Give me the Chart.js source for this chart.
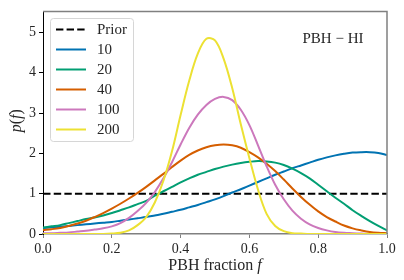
<!DOCTYPE html>
<html lang="en">
<head>
<meta charset="utf-8" />
<title>PBH fraction posterior</title>
<script src="https://cdn.jsdelivr.net/npm/chart.js@4.4.1/dist/chart.umd.min.js"></script>
<style>
  html, body { margin: 0; padding: 0; background: #fff; }
</style>
</head>
<body>
<canvas id="myChart" width="404" height="280"></canvas>

<script>
// PBH fraction grid and posterior p(f)
var fractions = [0, 0.025, 0.05, 0.075, 0.1, 0.125, 0.15, 0.175, 0.2, 0.225,
	0.25, 0.275, 0.3, 0.325, 0.35, 0.375, 0.4, 0.425, 0.45, 0.475,
	0.5, 0.525, 0.55, 0.575, 0.6, 0.625, 0.65, 0.675, 0.7, 0.725,
	0.75, 0.775, 0.8, 0.825, 0.85, 0.875, 0.9, 0.925, 0.95, 0.975, 1.0];

var labels = ["Prior", "10", "20", "40", "100", "200"];
var colors = ["#000000", "#0173B2", "#029E73", "#D55E00", "#CC78BC", "#ECE133"];

var prior = [1, 1];
var n10 = [0.15, 0.165, 0.18, 0.20, 0.22, 0.24, 0.26, 0.28, 0.30, 0.33,
	0.36, 0.39, 0.42, 0.46, 0.50, 0.55, 0.60, 0.66, 0.72, 0.79,
	0.86, 0.94, 1.03, 1.11, 1.20, 1.29, 1.38, 1.47, 1.55, 1.63,
	1.70, 1.77, 1.84, 1.90, 1.95, 1.99, 2.02, 2.03, 2.03, 2.01, 1.96];
var n20 = [0.16, 0.19, 0.22, 0.27, 0.32, 0.37, 0.41, 0.46, 0.52, 0.59,
	0.66, 0.74, 0.82, 0.95, 1.06, 1.17, 1.28, 1.38, 1.47, 1.54,
	1.61, 1.67, 1.72, 1.76, 1.79, 1.81, 1.80, 1.77, 1.71, 1.62,
	1.51, 1.38, 1.22, 1.06, 0.90, 0.75, 0.59, 0.45, 0.32, 0.20, 0.09];
var n40 = [0.10, 0.12, 0.15, 0.20, 0.26, 0.33, 0.42, 0.52, 0.63, 0.75,
	0.88, 1.02, 1.17, 1.33, 1.49, 1.66, 1.82, 1.96, 2.07, 2.15,
	2.20, 2.22, 2.20, 2.14, 2.03, 1.90, 1.74, 1.56, 1.35, 1.13,
	0.92, 0.73, 0.56, 0.42, 0.31, 0.21, 0.14, 0.09, 0.05, 0.03, 0.02];
var n100 = [0.02, 0.02, 0.03, 0.04, 0.06, 0.08, 0.11, 0.14, 0.19, 0.27,
	0.40, 0.57, 0.77, 1.04, 1.38, 1.78, 2.22, 2.63, 2.96, 3.20,
	3.35, 3.40, 3.32, 3.08, 2.70, 2.20, 1.68, 1.22, 0.86, 0.58,
	0.38, 0.24, 0.15, 0.09, 0.05, 0.03, 0.02, 0.01, 0, 0, 0];
var n200 = [0, 0, 0, 0, 0, 0, 0, 0, 0.01, 0.03,
	0.09, 0.22, 0.42, 0.78, 1.32, 2.05, 2.95, 3.80, 4.47, 4.84,
	4.80, 4.35, 3.62, 2.72, 1.88, 1.10, 0.50, 0.20, 0.07, 0.02,
	0.01, 0, 0, 0, 0, 0, 0, 0, 0, 0, 0];

var xTicks = [0, 0.2, 0.4, 0.6, 0.8, 1.0];
var yTicks = [0, 1, 2, 3, 4, 5];

var serif = "'Liberation Serif', 'DejaVu Serif', serif";
var textColor = "#262626";
var frameGray = "#808080";

function points(ys, xs) {
	return ys.map(function (y, i) { return { x: xs[i], y: y }; });
}

var series = [points(prior, [0, 1]), points(n10, fractions), points(n20, fractions),
	points(n40, fractions), points(n100, fractions), points(n200, fractions)];

var datasets = series.map(function (data, i) {
	return {
		label: labels[i],
		data: data,
		borderColor: colors[i],
		borderWidth: 2,
		borderDash: i === 0 ? [7.4, 3.2] : [],
		pointRadius: 0,
		fill: false,
		tension: 0.35,
		order: labels.length - i
	};
});

// matplotlib style frame: gray top/right spines
var framePlugin = {
	id: "frame",
	afterDatasetsDraw: function (chart) {
		var a = chart.chartArea, ctx = chart.ctx;
		ctx.save();
		ctx.strokeStyle = frameGray;
		ctx.lineWidth = 1.5;
		ctx.beginPath();
		ctx.moveTo(a.left, a.top);
		ctx.lineTo(a.right, a.top);
		ctx.lineTo(a.right, a.bottom);
		ctx.stroke();
		ctx.restore();
	}
};

// legend inside the axes, upper left
var legendPlugin = {
	id: "insideLegend",
	afterDatasetsDraw: function (chart) {
		var ctx = chart.ctx;
		var x0 = 50.5, y0 = 18.5, w = 83, h = 123;
		ctx.save();
		ctx.beginPath();
		ctx.roundRect(x0, y0, w, h, 3);
		ctx.fillStyle = "rgba(255,255,255,0.8)";
		ctx.fill();
		ctx.strokeStyle = "#d6d6d6";
		ctx.lineWidth = 1;
		ctx.stroke();
		ctx.font = "15px " + serif;
		ctx.textBaseline = "middle";
		chart.data.datasets.forEach(function (ds, i) {
			var y = 29.5 + i * 20;
			ctx.strokeStyle = ds.borderColor;
			ctx.lineWidth = ds.borderWidth;
			ctx.setLineDash(ds.borderDash);
			ctx.beginPath();
			ctx.moveTo(56, y);
			ctx.lineTo(86, y);
			ctx.stroke();
			ctx.setLineDash([]);
			ctx.fillStyle = textColor;
			ctx.fillText(ds.label, 97, y + 1);
		});
		ctx.restore();
	}
};

// annotation and axis titles with italic symbols
var textPlugin = {
	id: "texts",
	afterDraw: function (chart) {
		var ctx = chart.ctx, a = chart.chartArea;
		ctx.save();
		ctx.fillStyle = textColor;
		ctx.textBaseline = "middle";

		ctx.font = "15px " + serif;
		ctx.textAlign = "center";
		ctx.fillText("PBH \u2212 HI", 333, 39);

		// x title
		drawRun(ctx, [["PBH fraction ", ""], ["f", "italic "]], (a.left + a.right) / 2, 266, 16);

		// y title
		ctx.translate(17, (a.top + a.bottom) / 2 - 2);
		ctx.rotate(-Math.PI / 2);
		drawRun(ctx, [["p", "italic "], ["(", ""], ["f", "italic "], [")", ""]], 0, 0, 16);
		ctx.restore();
	}
};

function drawRun(ctx, parts, cx, cy, size) {
	var total = 0;
	parts.forEach(function (p) {
		ctx.font = p[1] + size + "px " + serif;
		total += ctx.measureText(p[0]).width;
	});
	var x = cx - total / 2;
	ctx.textAlign = "left";
	parts.forEach(function (p) {
		ctx.font = p[1] + size + "px " + serif;
		ctx.fillText(p[0], x, cy);
		x += ctx.measureText(p[0]).width;
	});
}

var ctx = document.getElementById("myChart").getContext("2d");
var myChart = new Chart(ctx, {
	type: "line",
	data: { datasets: datasets },
	plugins: [framePlugin, legendPlugin, textPlugin],
	options: {
		responsive: false,
		animation: false,
		devicePixelRatio: 1,
		layout: { padding: { top: 11, right: 17, left: 0, bottom: 0 } },
		plugins: { legend: { display: false }, tooltip: { enabled: false } },
		scales: {
			x: {
				type: "linear",
				min: 0,
				max: 1,
				afterBuildTicks: function (s) { s.ticks = xTicks.map(function (v) { return { value: v }; }); },
				afterFit: function (s) { s.height = 46; },
				ticks: {
					callback: function (v) { return v.toFixed(1); },
					font: { family: serif, size: 14 },
					color: textColor,
					padding: 3,
					maxRotation: 0
				},
				grid: { drawOnChartArea: false, tickLength: 4, color: frameGray, tickWidth: 1 },
				border: { color: frameGray, width: 1.5 }
			},
			y: {
				min: 0,
				max: 5.52,
				afterBuildTicks: function (s) { s.ticks = yTicks.map(function (v) { return { value: v }; }); },
				afterFit: function (s) { s.width = 43; },
				ticks: {
					font: { family: serif, size: 14 },
					color: textColor,
					padding: 3
				},
				grid: { drawOnChartArea: false, tickLength: 4, color: "#000", tickWidth: 1 },
				border: { color: "#000", width: 1 }
			}
		}
	}
});
</script>
</body>
</html>
